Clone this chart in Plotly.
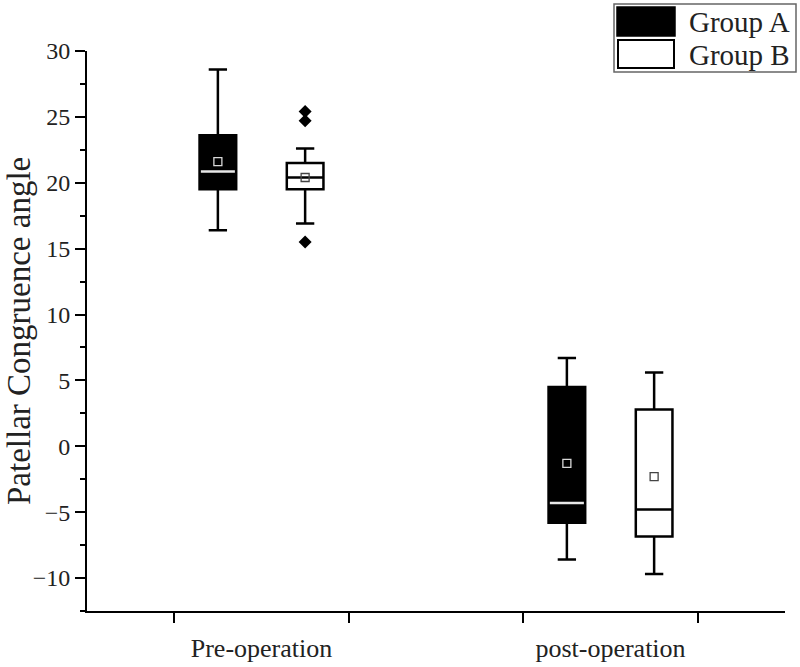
import plotly.graph_objects as go

# ---- data ----
groups = ["Group A", "Group B"]
categories = ["Pre-operation", "post-operation"]
positions_A = [1, 5]
positions_B = [2, 6]
cat_positions = [1.5, 5.5]

A_upper = [28.6, 6.7]
A_q3 = [23.6, 4.5]
A_median = [20.85, -4.3]
A_q1 = [19.5, -5.8]
A_lower = [16.4, -8.6]
A_mean = [21.6, -1.3]

B_upper = [22.6, 5.6]
B_q3 = [21.5, 2.8]
B_median = [20.4, -4.8]
B_q1 = [19.5, -6.85]
B_lower = [16.9, -9.7]
B_mean = [20.4, -2.3]

B_outlier_x = [2, 2, 2]
B_outlier_y = [25.4, 24.7, 15.5]

y_ticks = [-10, -5, 0, 5, 10, 15, 20, 25, 30]

BOX_W = 0.42
FONT = "Liberation Serif"

fig = go.Figure()

fig.add_trace(go.Box(
    x=positions_A, q1=A_q1, median=A_median, q3=A_q3,
    lowerfence=A_lower, upperfence=A_upper,
    fillcolor="black", line=dict(color="black", width=2.5),
    width=BOX_W, whiskerwidth=0.5, boxpoints=False, name=groups[0],
    showlegend=False,
))
fig.add_trace(go.Box(
    x=positions_B, q1=B_q1, median=B_median, q3=B_q3,
    lowerfence=B_lower, upperfence=B_upper,
    fillcolor="white", line=dict(color="black", width=2.5),
    width=BOX_W, whiskerwidth=0.5, boxpoints=False, name=groups[1],
    showlegend=False,
))

# white median lines for the black boxes
for xp, med in zip(positions_A, A_median):
    half = BOX_W / 2 - 0.015
    fig.add_trace(go.Scatter(
        x=[xp - half, xp + half], y=[med, med], mode="lines",
        line=dict(color="#e8e8e8", width=2.5), showlegend=False, hoverinfo="skip",
    ))

# mean markers
fig.add_trace(go.Scatter(
    x=positions_A, y=A_mean, mode="markers",
    marker=dict(symbol="square-open", size=8, color="#d8d8d8", line=dict(width=1.3)),
    showlegend=False,
))
fig.add_trace(go.Scatter(
    x=positions_B, y=B_mean, mode="markers",
    marker=dict(symbol="square-open", size=8, color="#444444", line=dict(width=1.3)),
    showlegend=False,
))

# outliers
fig.add_trace(go.Scatter(
    x=B_outlier_x, y=B_outlier_y, mode="markers",
    marker=dict(symbol="diamond", size=10, color="black"),
    showlegend=False,
))

# ---- custom legend (paper coords) ----
def px_x(p):
    return (p - 87) / 698.0

def px_y(p):
    return (611 - p) / 560.0

shapes = [
    dict(type="rect", xref="paper", yref="paper",
         x0=px_x(614), x1=px_x(796), y0=px_y(72), y1=px_y(4),
         line=dict(color="#666666", width=1.5), fillcolor="white", layer="above"),
    dict(type="rect", xref="paper", yref="paper",
         x0=px_x(617), x1=px_x(675), y0=px_y(36), y1=px_y(7),
         line=dict(color="black", width=1.5), fillcolor="black", layer="above"),
    dict(type="rect", xref="paper", yref="paper",
         x0=px_x(618), x1=px_x(674), y0=px_y(68), y1=px_y(40),
         line=dict(color="black", width=2), fillcolor="white", layer="above"),
]
annotations = [
    dict(text=groups[0], xref="paper", yref="paper", x=px_x(687), y=px_y(22),
         xanchor="left", yanchor="middle", showarrow=False,
         font=dict(family=FONT, size=29, color="#222222")),
    dict(text=groups[1], xref="paper", yref="paper", x=px_x(687), y=px_y(55),
         xanchor="left", yanchor="middle", showarrow=False,
         font=dict(family=FONT, size=29, color="#222222")),
    dict(text="Patellar Congruence angle", xref="paper", yref="paper",
         x=px_x(19), y=0.5, xanchor="center", yanchor="middle", textangle=-90,
         showarrow=False, font=dict(family=FONT, size=33, color="#222222")),
]

fig.update_layout(
    width=800, height=667,
    margin=dict(l=87, r=15, t=51, b=56, autoexpand=False),
    plot_bgcolor="white", paper_bgcolor="white",
    shapes=shapes, annotations=annotations,
    showlegend=False,
    xaxis=dict(
        range=[-0.5, 7.5], showgrid=False, zeroline=False, automargin=False,
        showline=True, linecolor="black", linewidth=2,
        tickmode="array", tickvals=cat_positions, ticktext=categories,
        ticks="", ticklabelstandoff=13,
        tickfont=dict(family=FONT, size=26, color="#222222"),
        minor=dict(tickmode="linear", tick0=0.5, dtick=2, ticks="outside",
                   ticklen=10, tickwidth=2, tickcolor="black", showgrid=False),
    ),
    yaxis=dict(
        range=[-12.5, 30], showgrid=False, zeroline=False, automargin=False,
        showline=True, linecolor="black", linewidth=2,
        tickmode="array", tickvals=y_ticks,
        ticks="outside", ticklen=10, tickwidth=2, tickcolor="black",
        tickfont=dict(family=FONT, size=24, color="#222222"),
        minor=dict(tickmode="linear", tick0=0, dtick=2.5, ticks="outside",
                   ticklen=5, tickwidth=2, tickcolor="black", showgrid=False),
    ),
)

fig.write_html(
    "out.html",
    config={"displayModeBar": False},
    post_script="document.body.style.margin='0';document.body.style.overflow='hidden';",
)
